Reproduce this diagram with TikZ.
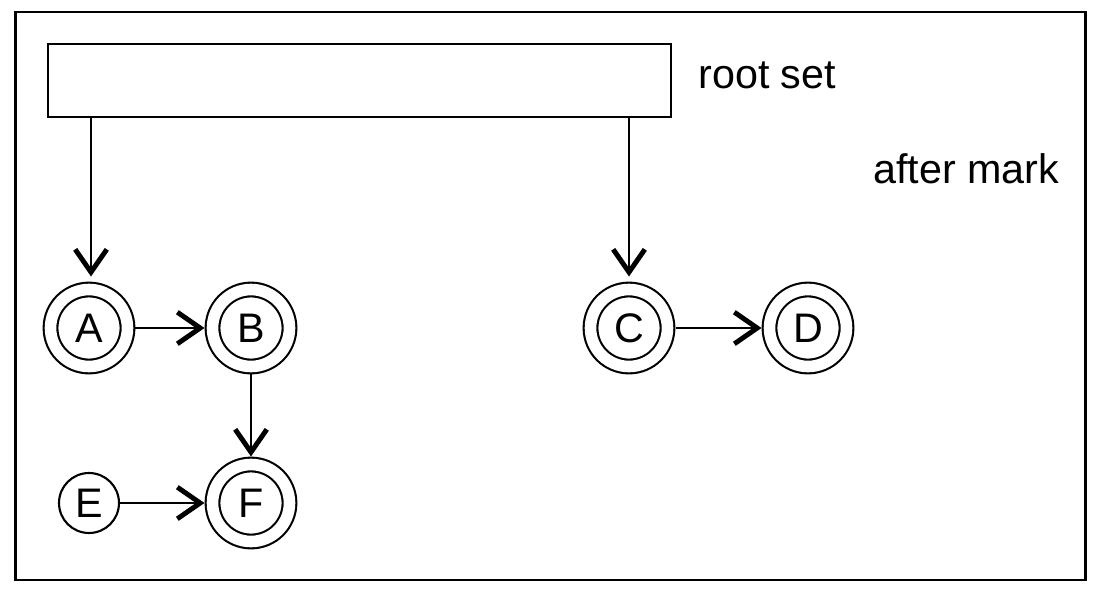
\documentclass[tikz,border=0pt]{standalone}
\usepackage{fontspec}
\setmainfont{Liberation Sans}
\usetikzlibrary{arrows.meta}
\tikzset{
  marked/.style={circle, draw, line width=1.2pt, double, double distance=6.6pt,
    minimum size=1.54cm, inner sep=0pt, outer sep=0.16cm},
  unmarked/.style={circle, draw, line width=1.2pt, minimum size=1.2cm, inner sep=0pt},
  ref/.style={line width=1.2pt, -{Straight Barb[length=13pt, width=18pt, line width=2.8pt]}},
}
\begin{document}
\begin{tikzpicture}[x=0.02cm, y=-0.02cm, font=\fontsize{23.5}{28}\selectfont]
            \useasboundingbox (0, 0) rectangle (1098, 592);
            \draw[line width=1.5pt] (15.5, 12) rectangle (1085.5, 580);

            \node[draw, line width=1.4pt, minimum width=12.46cm, minimum height=1.46cm,
              inner sep=0pt] (rootset) at (359.5, 80.5) {};
            \node[anchor=base west, inner sep=0pt] (rootlabel) at (698, 88) {root set};
            \node[anchor=base west, inner sep=0pt] (phase) at (873, 183) {after mark};

            \node[marked] (a) at (89, 328) {A};
            \node[marked] (b) at (251, 328) {B};
            \node[marked] (c) at (629, 328) {C};
            \node[marked] (d) at (808, 328) {D};
            \node[unmarked] (e) at (89, 503) {E};
            \node[marked] (f) at (251, 503) {F};

            \coordinate (ra) at (91, 117);
            \coordinate (rc) at (629, 117);
            \draw[ref] (ra) -- ([yshift=0.1cm]ra |- a.north);
            \draw[ref] (rc) -- ([yshift=0.1cm]c.north);
            \draw[ref] (a) -- (b);
            \draw[ref] (c) -- (d);
            \draw[ref] (b) -- (f);
            \draw[ref] (e) -- (f);
        \end{tikzpicture}
\end{document}
